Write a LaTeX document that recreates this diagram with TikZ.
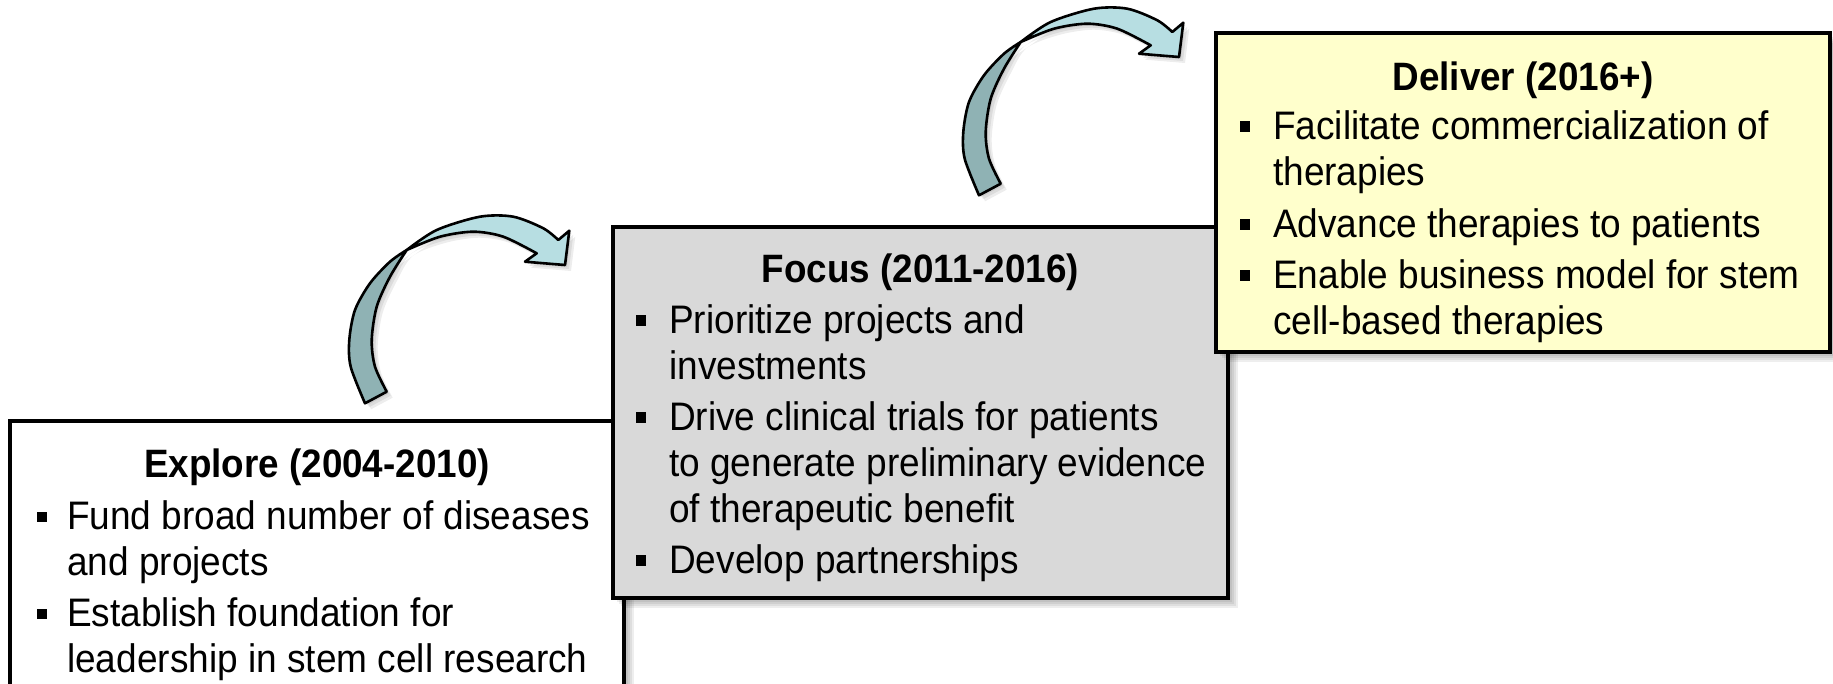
\documentclass[tikz,border=0pt]{standalone}
\usepackage{fontspec}
\setmainfont{Liberation Sans}[FakeStretch=0.93]
\definecolor{arrdark}{RGB}{143,178,180}
\definecolor{arrlight}{RGB}{183,222,226}
\definecolor{focusgray}{RGB}{217,217,217}
\definecolor{deliveryel}{RGB}{255,255,204}
\newcommand{\softshadow}[4]{\foreach \e in {0,2,...,10}{\fill[black,opacity=0.065] (#1+\e,#2+\e) rectangle (#3+\e,#4+\e);}}
\newcommand{\curvedarrow}{%
  \foreach \e in {2,4,6}{%
    \fill[black,opacity=0.07,shift={(\e,\e)}] plot[smooth] coordinates {(365,403.3) (350.7,366.7) (349.3,340) (355,310) (370,283.3) (390,261.7) (406.7,250) (436.7,230) (480,216.7) (513.3,216.7) (543.3,228.3) (558.3,240)} -- (569.3,230.7) -- (565,265) -- (525,261.7) -- (536.7,253.3) -- plot[smooth] coordinates {(536.7,253.3) (503.3,236.7) (473.3,231.7) (440,236.7) (406.7,250) (390,276.7) (376.7,306.7) (371.7,340) (375,366.7) (386.7,391.7)} -- cycle;}
  \filldraw[arrowline, fill=arrdark] plot[smooth] coordinates {(365,403.3) (350.7,366.7) (349.3,340) (355,310) (370,283.3) (390,261.7) (406.7,250)} -- plot[smooth] coordinates {(406.7,250) (390,276.7) (376.7,306.7) (371.7,340) (375,366.7) (386.7,391.7)} -- cycle;
  \filldraw[arrowline, fill=arrlight] plot[smooth] coordinates {(406.7,250) (436.7,230) (480,216.7) (513.3,216.7) (543.3,228.3) (558.3,240)} -- (569.3,230.7) -- (565,265) -- (525,261.7) -- (536.7,253.3) -- plot[smooth] coordinates {(536.7,253.3) (503.3,236.7) (473.3,231.7) (440,236.7) (406.7,250)} -- cycle;
}
\begin{document}
\begin{tikzpicture}[x=1pt,y=-1pt,
  box/.style={draw=black, line width=3.2pt, anchor=north west, inner sep=0pt, outer sep=0pt},
  titletext/.style={font=\fontsize{39.6}{45.6}\selectfont\bfseries, anchor=base, inner sep=0pt},
  linetext/.style={font=\fontsize{39.8}{45.6}\selectfont, anchor=base west, inner sep=0pt},
  bul/.style={fill=black, minimum size=10.5pt, inner sep=0pt, anchor=center},
  arrowline/.style={draw=black, line width=2.6pt, line join=round}]
\useasboundingbox (0,0) rectangle (1833,683);
\clip (0,0) rectangle (1833,683);
\fill[white] (0,0) rectangle (1833,683);

% curved arrows
\curvedarrow
\begin{scope}[shift={(614,-208)}]
\curvedarrow
\end{scope}

% Explore box
\softshadow{10}{421}{624}{740}
\node[box, fill=white, minimum width=614pt, minimum height=319pt] (explore) at (10,421) {};
\node[titletext] (exploretitle) at (317,477) {Explore (2004-2010)};
\node[bul] (eb1) at (42,516.9) {};
\node[linetext] (el1) at (67,529.4) {Fund broad number of diseases};
\node[linetext] (el2) at (67,575) {and projects};
\node[bul] (eb2) at (42,613.9) {};
\node[linetext] (el3) at (67,626.4) {Establish foundation for};
\node[linetext] (el4) at (67,672) {leadership in stem cell research};

% Focus box
\softshadow{613}{227}{1228}{598}
\node[box, fill=focusgray, minimum width=615pt, minimum height=371pt] (focus) at (613,227) {};
\node[titletext] (focustitle) at (920.5,282) {Focus (2011-2016)};
\node[bul] (fb1) at (641,320.5) {};
\node[linetext] (fl1) at (669,333) {Prioritize projects and};
\node[linetext] (fl2) at (669,379) {investments};
\node[bul] (fb2) at (641,417.5) {};
\node[linetext] (fl3) at (669,430) {Drive clinical trials for patients};
\node[linetext] (fl4) at (669,476) {to generate preliminary evidence};
\node[linetext] (fl5) at (669,522) {of therapeutic benefit};
\node[bul] (fb3) at (641,560.5) {};
\node[linetext] (fl6) at (669,573) {Develop partnerships};

% Deliver box
\softshadow{1216}{33}{1830}{352}
\node[box, fill=deliveryel, minimum width=614pt, minimum height=319pt] (deliver) at (1216,33) {};
\node[titletext] (delivertitle) at (1523,90) {Deliver (2016+)};
\node[bul] (db1) at (1245,126.5) {};
\node[linetext] (dl1) at (1273,139) {Facilitate commercialization of};
\node[linetext] (dl2) at (1273,185) {therapies};
\node[bul] (db2) at (1245,224.5) {};
\node[linetext] (dl3) at (1273,237) {Advance therapies to patients};
\node[bul] (db3) at (1245,275.5) {};
\node[linetext] (dl4) at (1273,288) {Enable business model for stem};
\node[linetext] (dl5) at (1273,334) {cell-based therapies};
\end{tikzpicture}
\end{document}
